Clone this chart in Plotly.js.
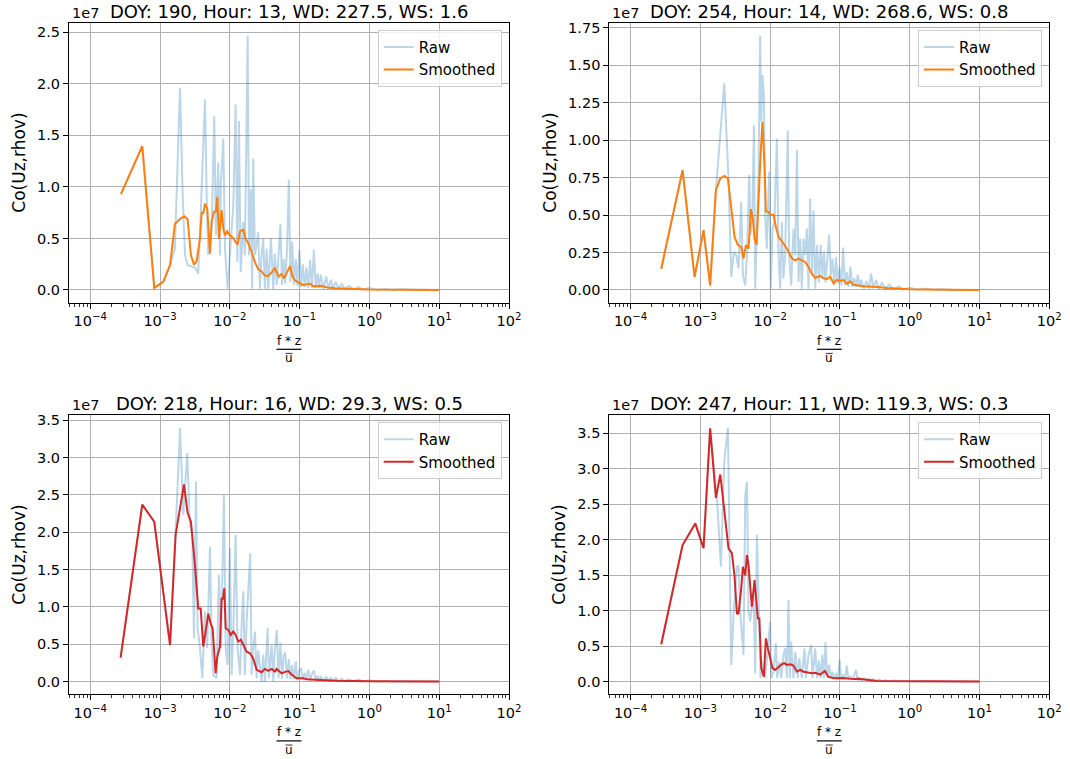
<!DOCTYPE html>
<html><head><meta charset="utf-8">
<script src="https://cdn.plot.ly/plotly-3.0.1.min.js"></script>
<style>html,body{margin:0;padding:0;background:#fff}#chart{width:1070px;height:759px}</style>
</head><body><div id="chart"></div>
<script>
// ---- data (Co values in units of 1e7) ----
const titles = ["DOY: 190, Hour: 13, WD: 227.5, WS: 1.6", "DOY: 254, Hour: 14, WD: 268.6, WS: 0.8",
                "DOY: 218, Hour: 16, WD: 29.3, WS: 0.5", "DOY: 247, Hour: 11, WD: 119.3, WS: 0.3"];
const smoothColors = ["#ff7f0e", "#ff7f0e", "#d62728", "#d62728"];
const xTickVals = [1e-4, 1e-3, 1e-2, 1e-1, 1, 10, 100];
const xTickText = ["10<sup>\u22124</sup>", "10<sup>\u22123</sup>", "10<sup>\u22122</sup>", "10<sup>\u22121</sup>", "10<sup>0</sup>", "10<sup>1</sup>", "10<sup>2</sup>"];

// shared high-frequency grid for the raw spectra
const xTail = [0.047, 0.05, 0.053, 0.056, 0.059, 0.062, 0.066, 0.07, 0.074, 0.078, 0.083, 0.088, 0.093, 0.099, 0.105, 0.111, 0.118, 0.125, 0.133, 0.141, 0.15, 0.16, 0.17, 0.18, 0.19, 0.2, 0.22, 0.24, 0.26, 0.28, 0.3, 0.33, 0.36, 0.4, 0.45, 0.5, 0.6, 0.7, 0.8, 1.0, 1.3, 1.7, 2.2, 3, 4, 5.5, 7.5, 10];

// panel 1
const p1RawLowX = [2.75e-4, 5.56e-4, 8.26e-4, 1.11e-3, 1.39e-3, 1.63e-3, 1.93e-3, 2.11e-3, 2.28e-3, 2.48e-3, 3.16e-3, 3.52e-3, 3.85e-3, 4.40e-3, 4.65e-3, 4.9e-3, 5.48e-3, 5.98e-3, 6.31e-3, 6.82e-3, 7.21e-3, 7.46e-3, 8.05e-3, 8.51e-3, 9.29e-3, 1.0e-2, 1.12e-2, 1.21e-2, 1.28e-2, 1.35e-2, 1.43e-2, 1.56e-2, 1.64e-2, 1.80e-2, 1.88e-2, 2.0e-2, 2.09e-2, 2.16e-2, 2.29e-2, 2.55e-2, 2.70e-2, 2.85e-2, 3.01e-2, 3.18e-2, 3.37e-2, 3.55e-2, 3.88e-2, 4.19e-2, 4.4e-2];
const p1RawLowY = [0.93, 1.395, 0.02, 0.078, 0.24, 0.40, 1.96, 0.92, 0.337, 0.24, 0.22, 0.16, 0.79, 1.85, 0.92, 0.34, 0.595, 1.686, 0.53, 1.24, 0.337, 1.05, 1.47, 0.40, 0.013, 0.337, 0.82, 1.80, 0.27, 1.64, 0.175, 0.66, 0.337, 2.47, 0.337, 0.98, 0.013, 1.275, 0.337, 0.56, 0.013, 0.34, 0.50, 0.013, 0.40, 0.01, 0.50, 0.01, 0.35];
const p1RawTailY = [0.05, 0.35, 0.64, 0.05, 0.30, 0.06, 0.40, 1.07, 0.08, 0.47, 0.05, 0.30, 0.04, 0.39, 0.03, 0.25, 0.03, 0.22, 0.02, 0.29, 0.02, 0.39, 0.02, 0.16, 0.02, 0.15, 0.01, 0.13, 0.01, 0.10, 0.01, 0.08, 0.01, 0.06, 0.005, 0.04, 0.005, 0.03, 0.002, 0.02, 0.002, 0.01, 0.001, 0.006, 0.001, 0.003, 0, 0];
const p1SmX = [2.75e-4, 5.56e-4, 8.26e-4, 1.11e-3, 1.39e-3, 1.63e-3, 1.94e-3, 2.22e-3, 2.48e-3, 2.77e-3, 3.06e-3, 3.34e-3, 3.73e-3, 3.95e-3, 4.16e-3, 4.40e-3, 4.74e-3, 5.19e-3, 5.48e-3, 5.91e-3, 6.31e-3, 6.6e-3, 6.98e-3, 7.29e-3, 7.62e-3, 8.05e-3, 8.51e-3, 9.19e-3, 1.0e-2, 1.08e-2, 1.18e-2, 1.29e-2, 1.40e-2, 1.56e-2, 1.68e-2, 1.84e-2, 2.05e-2, 2.29e-2, 2.55e-2, 2.85e-2, 3.18e-2, 3.55e-2, 3.97e-2, 4.4e-2, 4.8e-2, 5.0e-2, 5.5e-2, 6.0e-2, 6.9e-2, 7.3e-2, 7.9e-2, 8.5e-2, 0.1, 0.112, 0.141, 0.158, 0.2, 0.25, 0.32, 0.5, 1, 3, 10];
const p1SmY = [0.93, 1.395, 0.02, 0.078, 0.24, 0.64, 0.69, 0.715, 0.686, 0.337, 0.246, 0.278, 0.50, 0.757, 0.741, 0.838, 0.79, 0.353, 0.66, 0.757, 0.764, 0.903, 0.50, 0.66, 0.774, 0.595, 0.53, 0.57, 0.53, 0.515, 0.482, 0.44, 0.57, 0.585, 0.50, 0.45, 0.37, 0.27, 0.20, 0.18, 0.14, 0.136, 0.17, 0.21, 0.16, 0.13, 0.155, 0.113, 0.20, 0.233, 0.13, 0.097, 0.065, 0.049, 0.06, 0.035, 0.04, 0.025, 0.016, 0.01, 0.005, 0.002, 0.0];

// panel 2
const p2RawLowX = [2.75e-4, 5.56e-4, 8.26e-4, 1.11e-3, 1.38e-3, 1.67e-3, 2.2e-3, 2.53e-3, 2.77e-3, 3.02e-3, 3.27e-3, 3.52e-3, 3.85e-3, 4.07e-3, 4.4e-3, 4.65e-3, 5.01e-3, 5.24e-3, 5.58e-3, 5.85e-3, 6.11e-3, 6.46e-3, 6.81e-3, 7.19e-3, 7.45e-3, 7.76e-3, 8.13e-3, 8.49e-3, 8.97e-3, 9.68e-3, 1.02e-2, 1.08e-2, 1.15e-2, 1.25e-2, 1.32e-2, 1.39e-2, 1.47e-2, 1.55e-2, 1.64e-2, 1.79e-2, 1.87e-2, 2.0e-2, 2.16e-2, 2.29e-2, 2.42e-2, 2.55e-2, 2.69e-2, 2.84e-2, 3.01e-2, 3.18e-2, 3.36e-2, 3.54e-2, 3.74e-2, 3.96e-2, 4.18e-2, 4.42e-2];
const p2RawLowY = [0.142, 0.80, 0.087, 0.40, 0.03, 0.666, 1.38, 0.745, 0.087, 0.254, 0.232, 0.143, 0.588, 0.098, 0.031, 0.232, 0.767, 0.366, 0.543, 1.10, 0.009, 0.366, 0.767, 1.70, 1.123, 1.435, 1.30, 0.50, 0.276, 0.789, 0.009, 0.41, 0.455, 1.011, 0.232, 0.009, 0.455, 0.076, 0.232, 1.067, 0.232, 0.031, 0.41, 0.232, 0.934, 0.053, 0.343, 0.009, 0.343, 0.232, 0.41, 0.009, 0.61, 0.098, 0.533, 0.009];
const p2RawTailY = [0.30, 0.05, 0.30, 0.08, 0.256, 0.05, 0.20, 0.368, 0.10, 0.21, 0.03, 0.22, 0.04, 0.15, 0.03, 0.283, 0.03, 0.12, 0.02, 0.156, 0.02, 0.08, 0.02, 0.10, 0.02, 0.07, 0.01, 0.06, 0.01, 0.111, 0.01, 0.067, 0.01, 0.05, 0.005, 0.035, 0.005, 0.025, 0.002, 0.015, 0.002, 0.008, 0.001, 0.005, 0.001, 0.002, 0, 0];
const p2SmX = [2.75e-4, 5.56e-4, 8.26e-4, 1.11e-3, 1.38e-3, 1.67e-3, 1.93e-3, 2.22e-3, 2.48e-3, 2.77e-3, 3.09e-3, 3.45e-3, 3.85e-3, 4.15e-3, 4.49e-3, 4.9e-3, 5.3e-3, 5.66e-3, 5.97e-3, 6.38e-3, 6.81e-3, 7.28e-3, 7.76e-3, 8.3e-3, 8.69e-3, 9.46e-3, 1.03e-2, 1.12e-2, 1.21e-2, 1.32e-2, 1.44e-2, 1.55e-2, 1.74e-2, 1.94e-2, 2.05e-2, 2.29e-2, 2.55e-2, 2.84e-2, 3.18e-2, 3.54e-2, 3.96e-2, 4.42e-2, 5.2e-2, 5.8e-2, 6.5e-2, 7.2e-2, 8.1e-2, 9.0e-2, 0.1, 0.112, 0.126, 0.14, 0.156, 0.217, 0.27, 0.34, 0.47, 1.0, 3.2, 10];
const p2SmY = [0.142, 0.80, 0.087, 0.40, 0.03, 0.666, 0.745, 0.762, 0.745, 0.544, 0.354, 0.30, 0.287, 0.21, 0.30, 0.276, 0.54, 0.477, 0.343, 0.303, 0.655, 0.90, 1.123, 0.833, 0.526, 0.52, 0.50, 0.503, 0.42, 0.354, 0.332, 0.31, 0.276, 0.232, 0.21, 0.198, 0.21, 0.198, 0.187, 0.154, 0.109, 0.08, 0.094, 0.078, 0.072, 0.09, 0.045, 0.067, 0.06, 0.067, 0.04, 0.058, 0.035, 0.025, 0.025, 0.02, 0.013, 0.004, 0.001, 0];

// panel 3
const p3RawLowX = [2.72e-4, 5.56e-4, 8.26e-4, 1.39e-3, 1.67e-3, 1.93e-3, 2.15e-3, 2.45e-3, 2.68e-3, 2.89e-3, 3.06e-3, 3.27e-3, 3.45e-3, 3.73e-3, 4.03e-3, 4.4e-3, 4.74e-3, 5.19e-3, 5.48e-3, 5.78e-3, 6.46e-3, 6.98e-3, 7.46e-3, 8.22e-3, 8.71e-3, 9.29e-3, 1.0e-2, 1.06e-2, 1.12e-2, 1.21e-2, 1.29e-2, 1.40e-2, 1.48e-2, 1.56e-2, 1.64e-2, 1.74e-2, 1.96e-2, 2.05e-2, 2.16e-2, 2.29e-2, 2.42e-2, 2.55e-2, 2.85e-2, 3.01e-2, 3.18e-2, 3.48e-2, 3.63e-2, 3.97e-2, 4.19e-2, 4.4e-2];
const p3RawLowY = [0.32, 2.37, 2.14, 0.49, 2.0, 3.40, 2.23, 3.06, 2.10, 1.97, 0.58, 2.68, 0.716, 0.45, 0.045, 0.94, 0.45, 1.81, 0.536, 0.09, 0.045, 1.43, 0.45, 2.50, 0.45, 0.224, 1.79, 0.09, 0.67, 1.97, 0.45, 0.09, 0.80, 1.21, 0.09, 0.80, 1.72, 0.09, 0.45, 0.67, 0.045, 0.42, 0.0, 0.36, 0.0, 0.716, 0.045, 0.49, 0.0, 0.40];
const p3RawTailY = [0.69, 0.05, 0.52, 0.04, 0.35, 0.39, 0.04, 0.30, 0.03, 0.22, 0.03, 0.27, 0.02, 0.15, 0.18, 0.02, 0.12, 0.02, 0.16, 0.02, 0.10, 0.15, 0.01, 0.08, 0.01, 0.07, 0.01, 0.06, 0.01, 0.05, 0.01, 0.05, 0.005, 0.04, 0.005, 0.03, 0.005, 0.026, 0.002, 0.015, 0.002, 0.008, 0.001, 0.005, 0.001, 0.002, 0, 0];
const p3SmX = [2.72e-4, 5.56e-4, 8.26e-4, 1.39e-3, 1.67e-3, 2.2e-3, 2.48e-3, 2.77e-3, 3.16e-3, 3.52e-3, 3.82e-3, 4.16e-3, 4.5e-3, 4.9e-3, 5.31e-3, 5.66e-3, 5.92e-3, 6.25e-3, 6.61e-3, 7.21e-3, 7.62e-3, 7.96e-3, 8.32e-3, 8.71e-3, 9.51e-3, 1.03e-2, 1.12e-2, 1.21e-2, 1.32e-2, 1.44e-2, 1.56e-2, 1.74e-2, 1.94e-2, 2.16e-2, 2.42e-2, 2.85e-2, 3.18e-2, 3.55e-2, 3.97e-2, 4.43e-2, 4.68e-2, 5.52e-2, 6.17e-2, 6.87e-2, 7.67e-2, 9.06e-2, 0.113, 0.126, 0.195, 0.34, 1, 10];
const p3SmY = [0.32, 2.37, 2.14, 0.49, 1.97, 2.64, 2.26, 2.14, 1.56, 0.98, 0.98, 0.47, 0.67, 0.91, 0.78, 0.71, 0.45, 0.11, 0.335, 0.47, 1.12, 1.10, 1.25, 0.716, 0.69, 0.625, 0.67, 0.625, 0.536, 0.56, 0.49, 0.40, 0.38, 0.31, 0.157, 0.125, 0.17, 0.144, 0.17, 0.134, 0.17, 0.11, 0.13, 0.14, 0.094, 0.045, 0.045, 0.03, 0.02, 0.01, 0.004, 0];

// panel 4
const p4RawLowX = [2.75e-4, 5.56e-4, 8.45e-4, 1.11e-3, 1.38e-3, 1.73e-3, 1.97e-3, 2.2e-3, 2.48e-3, 2.59e-3, 2.77e-3, 2.99e-3, 3.34e-3, 3.52e-3, 3.72e-3, 4.15e-3, 4.4e-3, 4.65e-3, 4.9e-3, 5.18e-3, 5.77e-3, 6.11e-3, 6.46e-3, 6.67e-3, 6.97e-3, 7.28e-3, 7.6e-3, 8.04e-3, 8.49e-3, 1.0e-2, 1.035e-2, 1.12e-2, 1.21e-2, 1.26e-2, 1.35e-2, 1.44e-2, 1.55e-2, 1.64e-2, 1.74e-2, 1.83e-2, 1.92e-2, 2.0e-2, 2.16e-2, 2.29e-2, 2.49e-2, 2.61e-2, 2.84e-2, 3.1e-2, 3.25e-2, 3.54e-2, 3.87e-2, 4.04e-2, 4.42e-2];
const p4RawLowY = [0.527, 1.925, 2.23, 1.88, 3.57, 2.58, 1.62, 3.10, 3.58, 2.44, 0.235, 0.94, 1.62, 1.64, 0.986, 0.376, 2.63, 2.82, 0.986, 0.845, 1.27, 0.118, 2.07, 1.55, 0.94, 0.05, 0.28, 0.14, 0.05, 0.845, 0.05, 0.14, 0.54, 0.05, 0.28, 0.05, 0.376, 0.47, 0.05, 1.15, 0.05, 0.563, 0.05, 0.42, 0.05, 0.33, 0.05, 0.47, 0.05, 0.376, 0.517, 0.05, 0.47];
const p4RawTailY = [0.05, 0.30, 0.05, 0.376, 0.05, 0.555, 0.05, 0.235, 0.05, 0.14, 0.04, 0.12, 0.03, 0.305, 0.03, 0.10, 0.02, 0.225, 0.02, 0.08, 0.02, 0.10, 0.165, 0.01, 0.06, 0.01, 0.05, 0.01, 0.04, 0.005, 0.035, 0.005, 0.03, 0.005, 0.02, 0.003, 0.015, 0.002, 0.01, 0.002, 0.006, 0.001, 0.004, 0.001, 0.002, 0, 0.001, 0];
const p4SmX = [2.75e-4, 5.56e-4, 8.45e-4, 1.11e-3, 1.38e-3, 1.67e-3, 1.93e-3, 2.22e-3, 2.53e-3, 2.83e-3, 3.08e-3, 3.34e-3, 3.52e-3, 3.85e-3, 4.07e-3, 4.4e-3, 4.65e-3, 4.9e-3, 5.47e-3, 5.97e-3, 6.31e-3, 6.67e-3, 7.0e-3, 7.45e-3, 8.13e-3, 8.69e-3, 9.27e-3, 1.0e-2, 1.08e-2, 1.18e-2, 1.32e-2, 1.47e-2, 1.60e-2, 1.74e-2, 1.94e-2, 2.16e-2, 2.42e-2, 2.69e-2, 3.01e-2, 3.36e-2, 3.96e-2, 4.42e-2, 5.2e-2, 6.1e-2, 6.8e-2, 8.1e-2, 0.112, 0.156, 0.184, 0.34, 1, 10];
const p4SmY = [0.527, 1.925, 2.23, 1.88, 3.57, 2.59, 2.92, 2.35, 1.88, 1.81, 1.50, 0.96, 0.96, 1.315, 1.62, 1.50, 1.785, 1.64, 1.056, 1.43, 1.127, 0.89, 0.89, 0.19, 0.07, 0.61, 0.47, 0.33, 0.19, 0.165, 0.21, 0.245, 0.26, 0.235, 0.245, 0.225, 0.14, 0.165, 0.14, 0.13, 0.118, 0.125, 0.10, 0.15, 0.07, 0.047, 0.05, 0.035, 0.04, 0.01, 0.004, 0];

// ---- figure ----
const W = 1070, H = 759;
const FONT = "DejaVu Sans, Verdana, sans-serif";
const panels = [
  {L: 69, R: 509, T: 22.7, B: 302.7, yr: [-0.1235, 2.5935], dt: 0.5, fmt: ".1f", ylab: 19,
   rawX: p1RawLowX.concat(xTail), rawY: p1RawLowY.concat(p1RawTailY), smX: p1SmX, smY: p1SmY},
  {L: 609.3, R: 1049.3, T: 22.7, B: 302.7, yr: [-0.085, 1.785], dt: 0.25, fmt: ".2f", ylab: 550,
   rawX: p2RawLowX.concat(xTail), rawY: p2RawLowY.concat(p2RawTailY), smX: p2SmX, smY: p2SmY},
  {L: 69, R: 509, T: 415, B: 694.3, yr: [-0.17, 3.57], dt: 0.5, fmt: ".1f", ylab: 19,
   rawX: p3RawLowX.concat(xTail), rawY: p3RawLowY.concat(p3RawTailY), smX: p3SmX, smY: p3SmY},
  {L: 609.3, R: 1049.3, T: 415, B: 694.3, yr: [-0.179, 3.759], dt: 0.5, fmt: ".1f", ylab: 559,
   rawX: p4RawLowX.concat(xTail), rawY: p4RawLowY.concat(p4RawTailY), smX: p4SmX, smY: p4SmY}
];

const minorVals = [];
for (let e = -5; e <= 1; e++) for (let k = 2; k <= 9; k++) minorVals.push(k * Math.pow(10, e));

const traces = [];
const layout = {
  width: W, height: H, margin: {l: 0, r: 0, t: 0, b: 0, pad: 0},
  paper_bgcolor: "#fff", plot_bgcolor: "#fff", showlegend: true,
  font: {family: FONT, color: "#000"},
  annotations: [], shapes: []
};

panels.forEach((p, i) => {
  const n = i === 0 ? "" : String(i + 1);
  const xa = "x" + n, ya = "y" + n, lg = "legend" + n;
  traces.push({x: p.rawX, y: p.rawY, type: "scatter", mode: "lines", name: "Raw",
    line: {color: "rgba(31,119,180,0.3)", width: 2}, xaxis: xa, yaxis: ya, legend: lg});
  traces.push({x: p.smX, y: p.smY, type: "scatter", mode: "lines", name: "Smoothed",
    line: {color: smoothColors[i], width: 2}, xaxis: xa, yaxis: ya, legend: lg});

  layout["xaxis" + n] = {
    type: "log", domain: [p.L / W, p.R / W], anchor: ya, range: [-4.305, 2.0],
    tickmode: "array", tickvals: xTickVals, ticktext: xTickText,
    ticks: "outside", ticklen: 5, tickwidth: 1, tickcolor: "#000",
    showline: true, linecolor: "#000", linewidth: 1, mirror: true,
    showgrid: true, gridcolor: "#b0b0b0", gridwidth: 1, zeroline: false,
    tickfont: {family: FONT, size: 14.5, color: "#000"},
    minor: {tickmode: "array", tickvals: minorVals, ticks: "outside", ticklen: 3, tickwidth: 0.8, tickcolor: "#000", showgrid: false}
  };
  layout["yaxis" + n] = {
    domain: [1 - p.B / H, 1 - p.T / H], anchor: xa, range: p.yr,
    tickmode: "linear", tick0: 0, dtick: p.dt, tickformat: p.fmt,
    ticks: "outside", ticklen: 5, tickwidth: 1, tickcolor: "#000",
    showline: true, linecolor: "#000", linewidth: 1, mirror: true,
    showgrid: true, gridcolor: "#b0b0b0", gridwidth: 1, zeroline: false,
    tickfont: {family: FONT, size: 14.5, color: "#000"}
  };
  layout[lg] = {
    x: (p.R - 7.3) / W, y: 1 - (p.T + 7) / H, xanchor: "right", yanchor: "top",
    bgcolor: "rgba(255,255,255,0.8)", bordercolor: "#cccccc", borderwidth: 1,
    font: {family: FONT, size: 15, color: "#000"}, itemwidth: 30
  };

  const cx = (p.L + p.R) / 2;
  const ann = layout.annotations;
  ann.push({text: titles[i], xref: "paper", yref: "paper", x: cx / W, y: 1 - Math.max(0, p.T - 22.7) / H,
    xanchor: "center", yanchor: "top", borderpad: 0, showarrow: false, font: {family: FONT, size: 18, color: "#000"}});
  ann.push({text: "1e7", xref: "paper", yref: "paper", x: (p.L + 0.5) / W, y: 1 - (p.T - 9.7) / H,
    xanchor: "left", yanchor: "middle", showarrow: false, font: {family: FONT, size: 14.5, color: "#000"}});
  ann.push({text: "Co(Uz,rhov)", xref: "paper", yref: "paper", x: p.ylab / W, y: 1 - ((p.T + p.B) / 2) / H,
    xanchor: "center", yanchor: "middle", textangle: -90, showarrow: false, font: {family: FONT, size: 17, color: "#000"}});
  ann.push({text: "f * z", xref: "paper", yref: "paper", x: cx / W, y: 1 - (p.B + 38) / H,
    xanchor: "center", yanchor: "middle", showarrow: false, font: {family: FONT, size: 12, color: "#000"}});
  ann.push({text: "u", xref: "paper", yref: "paper", x: cx / W, y: 1 - (p.B + 55.5) / H,
    xanchor: "center", yanchor: "middle", showarrow: false, font: {family: FONT, size: 12, color: "#000"}});
  layout.shapes.push({type: "line", xref: "paper", yref: "paper", x0: (cx - 12.5) / W, x1: (cx + 12.5) / W,
    y0: 1 - (p.B + 46.6) / H, y1: 1 - (p.B + 46.6) / H, line: {color: "#000", width: 1.2}});
  layout.shapes.push({type: "line", xref: "paper", yref: "paper", x0: (cx - 3.5) / W, x1: (cx + 3.5) / W,
    y0: 1 - (p.B + 50.7) / H, y1: 1 - (p.B + 50.7) / H, line: {color: "#000", width: 0.8}});
});

Plotly.newPlot("chart", traces, layout, {displayModeBar: false, staticPlot: true});
</script>
</body></html>
